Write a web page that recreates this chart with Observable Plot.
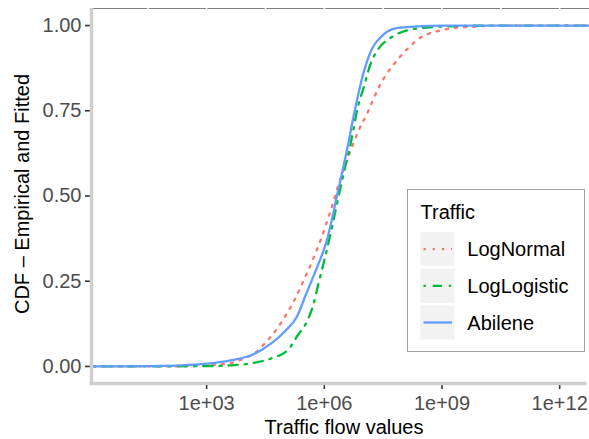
<!DOCTYPE html>
<html>
<head>
<meta charset="utf-8">
<script src="https://cdn.jsdelivr.net/npm/d3@7"></script>
<script src="https://cdn.jsdelivr.net/npm/@observablehq/plot@0.6"></script>
<style>
  html, body { margin: 0; padding: 0; background: white; }
  #wrap { position: relative; width: 589px; height: 439px; overflow: hidden; }
  #legend { position: absolute; left: 406.5px; top: 188.5px; }
</style>
</head>
<body>
<div id="wrap"></div>
<script>
// ---- Data (x stored as log10 of traffic flow value) ----
const abileneLog10X = [0.1, 1.5, 2.34, 3.0, 3.61, 4.12, 4.63, 5.01, 5.3, 5.52, 5.78, 6.07, 6.34, 6.59, 6.75, 7.0, 7.23, 7.44, 7.6, 7.87, 8.3, 9.0, 13.0];
const abileneCdf    = [0, 0.001, 0.003, 0.008, 0.018, 0.032, 0.066, 0.105, 0.146, 0.208, 0.281, 0.372, 0.51, 0.642, 0.736, 0.862, 0.935, 0.966, 0.982, 0.993, 0.997, 1, 1];

const logNormalLog10X = [0.1, 2.0, 2.85, 3.61, 3.94, 4.25, 4.5, 4.76, 5.01, 5.27, 5.47, 5.7, 5.91, 6.16, 6.42, 6.67, 6.85, 7.1, 7.23, 7.38, 7.56, 7.74, 7.95, 8.15, 8.4, 8.66, 8.91, 9.3, 9.73, 10.5, 13.0];
const logNormalCdf    = [0, 0, 0.002, 0.01, 0.023, 0.041, 0.07, 0.105, 0.149, 0.202, 0.252, 0.311, 0.372, 0.457, 0.554, 0.633, 0.686, 0.744, 0.779, 0.817, 0.853, 0.882, 0.911, 0.935, 0.961, 0.976, 0.984, 0.993, 0.996, 1, 1];

const logLogisticLog10X = [0.1, 2.85, 3.61, 4.12, 4.63, 5.06, 5.32, 5.57, 5.73, 5.85, 5.98, 6.16, 6.34, 6.49, 6.67, 6.85, 7.0, 7.18, 7.38, 7.69, 8.15, 8.71, 9.22, 10.5, 13.0];
const logLogisticCdf    = [0, 0.001, 0.003, 0.009, 0.023, 0.047, 0.091, 0.135, 0.185, 0.243, 0.302, 0.39, 0.486, 0.565, 0.653, 0.759, 0.817, 0.888, 0.932, 0.964, 0.987, 0.995, 0.998, 1, 1];

const seriesNames = ["LogNormal", "LogLogistic", "Abilene"];
const seriesColors = ["#F8766D", "#00BA38", "#619CFF"];
const seriesDash = ["2.3,6.9", "2.3,6.9,9.2,6.9", null];

const xTickExponents = [3, 6, 9, 12];
const xGridExponents = [1.5, 3, 4.5, 6, 7.5, 9, 10.5, 12];
const yTicks = [0, 0.25, 0.5, 0.75, 1];
const xTitle = "Traffic flow values";
const yTitle = "CDF – Empirical and Fitted";
const legendTitle = "Traffic";

// ---- Build tables ----
function toRows(lx, cdf, name) {
  return lx.map((e, i) => ({x: Math.pow(10, e), y: cdf[i], series: name}));
}
const rowsLN = toRows(logNormalLog10X, logNormalCdf, "LogNormal");
const rowsLL = toRows(logLogisticLog10X, logLogisticCdf, "LogLogistic");
const rowsAb = toRows(abileneLog10X, abileneCdf, "Abilene");

const xMin = Math.pow(10, 0.09), xMax = Math.pow(10, 12.76);
const yMin = -0.05, yMax = 1.05;
const font = "'Liberation Sans', Arial, Helvetica, sans-serif";

const chart = Plot.plot({
  width: 589,
  height: 439,
  marginLeft: 92,
  marginRight: 0,
  marginTop: 8,
  marginBottom: 56,
  style: {fontFamily: font, background: "white", overflow: "visible"},
  x: {type: "log", domain: [xMin, xMax]},
  y: {domain: [yMin, yMax]},
  marks: [
    // top panel border with white grid gaps
    Plot.ruleY([yMax], {stroke: "#7f7f7f", strokeWidth: 1.2}),
    Plot.ruleX(xGridExponents.map(e => Math.pow(10, e)), {y1: 1.0, y2: 1.07, stroke: "white", strokeWidth: 1.6}),
    // axes
    Plot.axisY({ticks: yTicks, tickFormat: d3.format(".2f"), tickSize: 7, tickPadding: 4, fontSize: 20, fill: "#4d4d4d", stroke: "#333333", strokeWidth: 1.6, label: null}),
    Plot.axisX({ticks: xTickExponents.map(e => Math.pow(10, e)), tickFormat: d => "1e+" + String(Math.round(Math.log10(d))).padStart(2, "0"), tickSize: 6, tickPadding: 6, fontSize: 20, fill: "#4d4d4d", stroke: "#333333", strokeWidth: 1.6, label: null}),
    // series
    Plot.line(rowsLN, {x: "x", y: "y", stroke: seriesColors[0], strokeWidth: 2.3, strokeDasharray: seriesDash[0], curve: "monotone-x"}),
    Plot.line(rowsLL, {x: "x", y: "y", stroke: seriesColors[1], strokeWidth: 2.3, strokeDasharray: seriesDash[1], curve: "monotone-x"}),
    Plot.line(rowsAb, {x: "x", y: "y", stroke: seriesColors[2], strokeWidth: 2.3, curve: "monotone-x"}),
    // axis lines
    Plot.ruleX([xMin], {y1: -0.056, y2: yMax, stroke: "#cfcfcf", strokeWidth: 3.5, dx: -1}),
    Plot.ruleY([yMin], {x1: xMin, x2: xMax, stroke: "#cfcfcf", strokeWidth: 3.5, dx: -2.5, dy: 0}),
    // titles
    Plot.text([xTitle], {frameAnchor: "bottom", dy: 50, lineAnchor: "bottom", fontSize: 20, fill: "black", dx: 3}),
    Plot.text([yTitle], {frameAnchor: "left", textAnchor: "middle", rotate: -90, dx: -70, dy: -2, fontSize: 20, fill: "black"})
  ]
});

const wrap = document.getElementById("wrap");
wrap.appendChild(chart);

// ---- Legend (ggplot-style, inside panel) ----
const ns = "http://www.w3.org/2000/svg";
const lg = document.createElementNS(ns, "svg");
lg.setAttribute("id", "legend");
lg.setAttribute("width", 179);
lg.setAttribute("height", 164);
lg.style.fontFamily = font;
function el(tag, attrs, text) {
  const e = document.createElementNS(ns, tag);
  for (const k in attrs) e.setAttribute(k, attrs[k]);
  if (text != null) e.textContent = text;
  lg.appendChild(e);
  return e;
}
el("rect", {x: 0.5, y: 0.5, width: 177, height: 162, fill: "white", stroke: "#a3a3a3", "stroke-width": 1});
el("text", {x: 13.5, y: 29.5, "font-size": 20, fill: "black"}, legendTitle);
const keyTops = [43.2, 79.8, 116.5];
seriesNames.forEach((name, i) => {
  const top = keyTops[i];
  el("rect", {x: 13.5, y: top, width: 34, height: 34, fill: "#f2f2f2"});
  const ln = el("line", {x1: 16.5, x2: 45, y1: top + 17, y2: top + 17, stroke: seriesColors[i], "stroke-width": 2.3});
  if (seriesDash[i]) ln.setAttribute("stroke-dasharray", seriesDash[i]);
  el("text", {x: 60.3, y: top + 17, dy: "0.35em", "font-size": 20, fill: "black"}, name);
});
wrap.appendChild(lg);
</script>
</body>
</html>
